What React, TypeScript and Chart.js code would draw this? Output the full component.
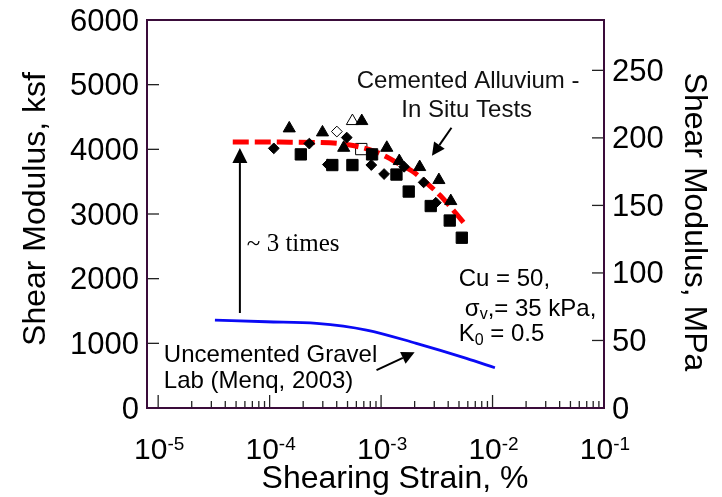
import React, { useEffect, useRef } from 'react';
import { Chart, registerables } from 'chart.js';

Chart.register(...registerables);

const W = 722;
const H = 497;

// ---------- data ----------
// Cemented alluvium, in situ tests (strain %, shear modulus ksf)
const TRI_FILLED_X = [1.5e-4, 2.98e-4, 4.62e-4, 6.71e-4, 1.125e-3, 1.456e-3, 2.22e-3, 3.3e-3, 4.22e-3];
const TRI_FILLED_Y = [4324, 4262, 4024, 4437, 4024, 3819, 3726, 3525, 3200];
const TRI_OPEN_X = [5.53e-4];
const TRI_OPEN_Y = [4437];
const DIA_FILLED_X = [1.09e-4, 2.27e-4, 3.33e-4, 4.92e-4, 8.17e-4, 1.064e-3, 1.61e-3, 2.41e-3, 3.1e-3];
const DIA_FILLED_Y = [4015, 4089, 3765, 4182, 3757, 3618, 3730, 3489, 3174];
const DIA_OPEN_X = [4.01e-4];
const DIA_OPEN_Y = [4275];
const SQ_FILLED_X = [1.905e-4, 3.65e-4, 5.53e-4, 8.3e-4, 1.374e-3, 1.77e-3, 2.79e-3, 4.13e-3, 5.3e-3];
const SQ_FILLED_Y = [3922, 3757, 3757, 3922, 3610, 3347, 3123, 2899, 2633];
const SQ_OPEN_X = [6.64e-4];
const SQ_OPEN_Y = [4004];
// red dashed trend through in situ data
const TREND_X = [4.67e-5, 1.23e-4, 3.47e-4, 5.24e-4, 8.47e-4, 1.117e-3, 1.47e-3, 1.94e-3, 2.55e-3, 3.36e-3, 4.43e-3, 5.83e-3];
const TREND_Y = [4115, 4112, 4100, 4066, 3978, 3885, 3768, 3653, 3483, 3293, 3061, 2814];
// uncemented gravel, lab (Menq, 2003)
const GRAVEL_X = [3.23e-5, 9.37e-5, 2.64e-4, 7.4e-4, 2.07e-3, 5.83e-3, 1.05e-2];
const GRAVEL_Y = [1360, 1334, 1309, 1206, 1000, 768, 623];

// axes
const X_MIN = 7.94e-6;
const X_MAX = 0.1;
const X_TICK_EXPONENTS = [-5, -4, -3, -2, -1];
const X_MINOR_MULTIPLIERS = [2, 3, 4, 5, 6, 7, 8, 9];
const KSF_TICKS = [0, 1000, 2000, 3000, 4000, 5000, 6000];
const MPA_TICKS = [0, 50, 100, 150, 200, 250];
const KSF_MAX = 6000;
const KSF_TO_MPA = 0.04788;

// annotations (data coordinates)
const ARROWS = [
  { from: [5.41e-5, 1469], to: [5.41e-5, 4020], head: 15, half: 7.5 },
  { from: [4.28e-3, 4333], to: [2.86e-3, 3900], head: 13, half: 6.5 },
  { from: [9.1e-4, 587], to: [2.0e-3, 861], head: 13, half: 6.5 },
];

const FONT = '"Liberation Sans", Arial, sans-serif';
const SERIF = '"Liberation Serif", "Times New Roman", serif';
const FRAME = '#3a0c3a';

const toPts = (xs: number[], ys: number[]) => xs.map((x, i) => ({ x, y: ys[i] }));

type Run = { t: string; size: number; dy: number; font?: string };

function drawRuns(ctx: CanvasRenderingContext2D, x: number, y: number, runs: Run[]) {
  let cx = x;
  for (const r of runs) {
    ctx.font = `${r.size}px ${r.font || FONT}`;
    ctx.fillText(r.t, cx, y + r.dy);
    cx += ctx.measureText(r.t).width;
  }
}

const decorPlugin = {
  id: 'decor',
  afterDraw(chart: any) {
    const { ctx, chartArea: a, scales } = chart;
    const xs = scales.x;
    const ys = scales.y;
    const y2 = scales.y2;
    ctx.save();

    const line = (x1: number, y1: number, x2: number, y2_: number) => {
      ctx.beginPath();
      ctx.moveTo(x1, y1);
      ctx.lineTo(x2, y2_);
      ctx.stroke();
    };

    // inward ticks
    ctx.strokeStyle = '#222';
    ctx.lineWidth = 1.3;
    for (const v of KSF_TICKS) {
      const py = ys.getPixelForValue(v);
      line(a.left, py, a.left + 12, py);
    }
    for (const v of MPA_TICKS) {
      const py = y2.getPixelForValue(v);
      line(a.right - 12, py, a.right, py);
    }
    for (const e of X_TICK_EXPONENTS) {
      const major = Math.pow(10, e);
      const px = xs.getPixelForValue(major);
      line(px, a.bottom, px, a.bottom - 13);
      for (const m of X_MINOR_MULTIPLIERS) {
        const v = m * major;
        if (v > X_MAX) continue;
        const p = xs.getPixelForValue(v);
        line(p, a.bottom, p, a.bottom - 7);
      }
    }

    // frame
    ctx.strokeStyle = FRAME;
    ctx.lineWidth = 2;
    ctx.strokeRect(a.left, a.top, a.right - a.left, a.bottom - a.top);

    ctx.fillStyle = '#000';
    // left tick labels
    ctx.font = `31px ${FONT}`;
    ctx.textAlign = 'right';
    ctx.textBaseline = 'middle';
    for (const v of KSF_TICKS) {
      ctx.fillText(String(v), a.left - 8, ys.getPixelForValue(v) + 2);
    }
    // right tick labels
    ctx.textAlign = 'left';
    for (const v of MPA_TICKS) {
      ctx.fillText(String(v), a.right + 8, y2.getPixelForValue(v) + 2);
    }
    // x tick labels with superscript exponents
    ctx.textBaseline = 'alphabetic';
    for (const e of X_TICK_EXPONENTS) {
      const px = xs.getPixelForValue(Math.pow(10, e));
      ctx.font = `30px ${FONT}`;
      const w1 = ctx.measureText('10').width;
      ctx.font = `19px ${FONT}`;
      const w2 = ctx.measureText(String(e)).width;
      const start = px - (w1 + w2) / 2 + 1;
      drawRuns(ctx, start, a.bottom + 51, [
        { t: '10', size: 30, dy: 0 },
        { t: String(e), size: 19, dy: -9 },
      ]);
    }

    // axis titles
    ctx.font = `32px ${FONT}`;
    ctx.textAlign = 'center';
    ctx.fillText('Shearing Strain, %', 395, a.bottom + 80);
    ctx.save();
    ctx.translate(45, (a.top + a.bottom) / 2 - 5);
    ctx.rotate(-Math.PI / 2);
    ctx.fillText('Shear Modulus, ksf', 0, 0);
    ctx.restore();
    ctx.save();
    ctx.translate(685, 222);
    ctx.rotate(Math.PI / 2);
    ctx.fillText('Shear Modulus, MPa', 0, 0);
    ctx.restore();

    // annotation texts
    const P = (x: number, y: number) => [xs.getPixelForValue(x), ys.getPixelForValue(y)];
    ctx.textAlign = 'left';
    ctx.fillStyle = '#111';
    let p = P(6.05e-4, 4947);
    drawRuns(ctx, p[0], p[1], [{ t: 'Cemented Alluvium -', size: 24, dy: 0 }]);
    p = P(1.52e-3, 4499);
    drawRuns(ctx, p[0], p[1], [{ t: 'In Situ Tests', size: 24, dy: 0 }]);
    ctx.fillStyle = '#000';
    p = P(6.25e-5, 2427);
    drawRuns(ctx, p[0], p[1], [{ t: '~ 3 times', size: 25, dy: 0, font: SERIF }]);
    p = P(4.97e-3, 1891);
    drawRuns(ctx, p[0], p[1], [{ t: 'Cu = 50,', size: 24, dy: 0 }]);
    p = P(5.64e-3, 1427);
    drawRuns(ctx, p[0], p[1], [
      { t: 'σ', size: 24, dy: 0 },
      { t: 'v', size: 16, dy: 3 },
      { t: ',= 35 kPa,', size: 24, dy: 0 },
    ]);
    p = P(4.97e-3, 1036);
    drawRuns(ctx, p[0], p[1], [
      { t: 'K', size: 24, dy: 0 },
      { t: '0', size: 16, dy: 4 },
      { t: ' = 0.5', size: 24, dy: 0 },
    ]);
    p = P(1.125e-5, 719);
    drawRuns(ctx, p[0], p[1], [{ t: 'Uncemented Gravel', size: 24, dy: 0 }]);
    p = P(1.125e-5, 317);
    drawRuns(ctx, p[0], p[1], [{ t: 'Lab (Menq, 2003)', size: 24, dy: 0 }]);

    // arrows
    ctx.strokeStyle = '#000';
    ctx.lineWidth = 2;
    for (const ar of ARROWS) {
      const [x1, y1] = P(ar.from[0], ar.from[1]);
      const [x2, y2p] = P(ar.to[0], ar.to[1]);
      const ang = Math.atan2(y2p - y1, x2 - x1);
      const bx = x2 - Math.cos(ang) * ar.head;
      const by = y2p - Math.sin(ang) * ar.head;
      line(x1, y1, bx, by);
      ctx.beginPath();
      ctx.moveTo(x2, y2p);
      ctx.lineTo(bx + Math.sin(ang) * ar.half, by - Math.cos(ang) * ar.half);
      ctx.lineTo(bx - Math.sin(ang) * ar.half, by + Math.cos(ang) * ar.half);
      ctx.closePath();
      ctx.fillStyle = '#000';
      ctx.fill();
    }
    ctx.restore();
  },
};

export default function App() {
  const ref = useRef<HTMLCanvasElement | null>(null);
  useEffect(() => {
    if (!ref.current) return;
    const marker = (style: string, r: number, fill: string) => ({
      showLine: false,
      pointStyle: style,
      pointRadius: r,
      pointBackgroundColor: fill,
      pointBorderColor: '#000',
      pointBorderWidth: 1,
      order: 1,
    });
    const chart = new Chart(ref.current, {
      type: 'scatter',
      data: {
        datasets: [
          { label: 'tri', data: toPts(TRI_FILLED_X, TRI_FILLED_Y), ...marker('triangle', 7, '#000') },
          { label: 'tri open', data: toPts(TRI_OPEN_X, TRI_OPEN_Y), ...marker('triangle', 7, '#fff') },
          { label: 'dia', data: toPts(DIA_FILLED_X, DIA_FILLED_Y), ...marker('rectRot', 5.4, '#000') },
          { label: 'dia open', data: toPts(DIA_OPEN_X, DIA_OPEN_Y), ...marker('rectRot', 5.4, '#fff') },
          { label: 'sq', data: toPts(SQ_FILLED_X, SQ_FILLED_Y), ...marker('rect', 8, '#000') },
          { label: 'sq open', data: toPts(SQ_OPEN_X, SQ_OPEN_Y), ...marker('rect', 8, '#fff'), order: 3 },
          {
            label: 'trend',
            data: toPts(TREND_X, TREND_Y),
            showLine: true,
            pointRadius: 0,
            borderColor: '#ff0000',
            borderWidth: 5,
            borderDash: [16, 6],
            cubicInterpolationMode: 'monotone',
            order: 2,
          },
          {
            label: 'gravel',
            data: toPts(GRAVEL_X, GRAVEL_Y),
            showLine: true,
            pointRadius: 0,
            borderColor: '#0a0af5',
            borderWidth: 2.8,
            cubicInterpolationMode: 'monotone',
            order: 2,
          },
        ],
      } as any,
      options: {
        responsive: false,
        animation: false,
        events: [],
        layout: { padding: { left: 147, right: W - 604, top: 20, bottom: H - 408 } },
        plugins: { legend: { display: false }, tooltip: { enabled: false }, title: { display: false } },
        scales: {
          x: { type: 'logarithmic', min: X_MIN, max: X_MAX, display: false },
          y: { type: 'linear', min: 0, max: KSF_MAX, display: false },
          y2: { type: 'linear', position: 'right', min: 0, max: KSF_MAX * KSF_TO_MPA, display: false },
        },
      } as any,
      plugins: [decorPlugin],
    });
    return () => chart.destroy();
  }, []);
  return (
    <div style={{ position: 'absolute', left: 0, top: 0, width: W, height: H, background: '#fff' }}>
      <canvas ref={ref} width={W} height={H} style={{ width: W, height: H, display: 'block' }} />
    </div>
  );
}
